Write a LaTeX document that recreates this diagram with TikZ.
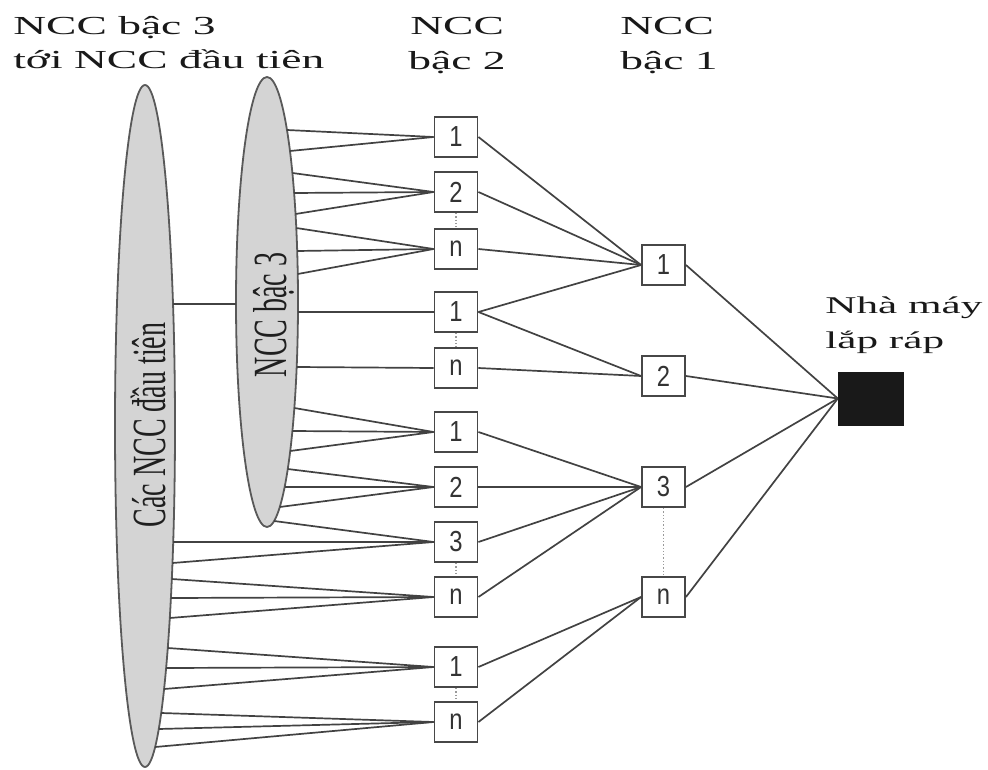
\documentclass[tikz,border=0pt]{standalone}
\usepackage{fontspec}
\setmainfont{Liberation Serif}
\newfontfamily\digitfont{Liberation Sans}
\usetikzlibrary{shapes.geometric}
% narrow digits inside the supplier boxes
\newcommand{\boxnum}[1]{\scalebox{0.82}[1]{#1}}

\begin{document}
\begin{tikzpicture}[x=1pt,y=-1pt,
  lbl/.style={anchor=base west, inner sep=0pt, xscale=1.75, text=black!90,
              font=\fontsize{26}{30}\selectfont},
  plantlbl/.style={lbl, xscale=1.8/1.75, font=\fontsize{24}{28}\selectfont},
  sidelbl/.style={rotate=90, inner sep=0pt, text=black!88,
              font=\fontsize{28}{32}\selectfont},
  sup/.style={draw=black!72, line width=1.9pt, fill=white, minimum width=43pt,
              minimum height=40pt, inner sep=0pt, text=black!80,
              font=\digitfont\fontsize{29}{29}\selectfont},
  plant/.style={draw=black!90, fill=black!90, minimum width=65pt,
              minimum height=53pt, inner sep=0pt},
  link/.style={draw=black!74, line width=1.7pt},
  gap/.style={draw=black!40, line width=1.3pt, dotted},
  tier/.style={ellipse, draw=black!65, fill=black!17, line width=1.8pt, inner sep=0pt}
]
\useasboundingbox (0,0) rectangle (988,770);

% column headings
\node[lbl] (h3a) at (13,35) {NCC bậc 3};
\node[lbl] (h3b) at (13,69) {tới NCC đầu tiên};
\node[lbl] (h2a) at (410,35) {NCC};
\node[lbl] (h2b) at (408,70) {bậc 2};
\node[lbl] (h1a) at (620,35) {NCC};
\node[lbl] (h1b) at (620,70) {bậc 1};
\node[plantlbl] (pa) at (825,313) {Nhà máy};
\node[plantlbl] (pb) at (825,348) {lắp ráp};

% supplier groups
\node[tier, minimum width=60pt, minimum height=682pt] (E1) at (145,426) {};
\node[tier, minimum width=62pt, minimum height=450pt] (E3) at (267,302) {};
\node[sidelbl] (t1) at (148,425) {\scalebox{1}[1.7]{Các NCC đầu tiên}};
\node[sidelbl] (t3) at (274,315) {\scalebox{1}[1.7]{NCC bậc 3}};

% tier-2 suppliers
\node[sup] (c2a) at (456,137) {\boxnum{1}};
\node[sup] (c2b) at (456,192) {\boxnum{2}};
\node[sup] (c2c) at (456,249) {\boxnum{n}};
\node[sup] (c2d) at (456,312) {\boxnum{1}};
\node[sup] (c2e) at (456,368) {\boxnum{n}};
\node[sup] (c2f) at (456,432) {\boxnum{1}};
\node[sup] (c2g) at (456,487) {\boxnum{2}};
\node[sup] (c2h) at (456,542) {\boxnum{3}};
\node[sup] (c2i) at (456,597) {\boxnum{n}};
\node[sup] (c2j) at (456,667) {\boxnum{1}};
\node[sup] (c2k) at (456,722) {\boxnum{n}};

% tier-1 suppliers
\node[sup] (c1a) at (663.5,265) {\boxnum{1}};
\node[sup] (c1b) at (663.5,376) {\boxnum{2}};
\node[sup] (c1c) at (663.5,487) {\boxnum{3}};
\node[sup] (c1d) at (663.5,597) {\boxnum{n}};

% assembly plant
\node[plant] (F) at (870.5,398.5) {};

% link between the two outer groups
\coordinate (e1r) at ({145+30*sqrt(1-((304-426)/341)^2)},304);
\coordinate (e3l) at ({267-31*sqrt(1-((304-302)/225)^2)},304);
\draw[link] (e1r) -- (e3l);

% tier-3 group to tier-2 suppliers
\foreach \yy in {130,151}
  \draw[link] ({267+31*sqrt(1-((\yy-302)/225)^2)},\yy) -- (c2a.west);
\foreach \yy in {173,193,214}
  \draw[link] ({267+31*sqrt(1-((\yy-302)/225)^2)},\yy) -- (c2b.west);
\foreach \yy in {228,251,274}
  \draw[link] ({267+31*sqrt(1-((\yy-302)/225)^2)},\yy) -- (c2c.west);
\foreach \yy in {312}
  \draw[link] ({267+31*sqrt(1-((\yy-302)/225)^2)},\yy) -- (c2d.west);
\foreach \yy in {367}
  \draw[link] ({267+31*sqrt(1-((\yy-302)/225)^2)},\yy) -- (c2e.west);
\foreach \yy in {408,431,451}
  \draw[link] ({267+31*sqrt(1-((\yy-302)/225)^2)},\yy) -- (c2f.west);
\foreach \yy in {469,487,507}
  \draw[link] ({267+31*sqrt(1-((\yy-302)/225)^2)},\yy) -- (c2g.west);
\foreach \yy in {521}
  \draw[link] ({267+31*sqrt(1-((\yy-302)/225)^2)},\yy) -- (c2h.west);

% first-tier group to tier-2 suppliers
\foreach \yy in {542,563}
  \draw[link] ({145+30*sqrt(1-((\yy-426)/341)^2)},\yy) -- (c2h.west);
\foreach \yy in {579,598,618}
  \draw[link] ({145+30*sqrt(1-((\yy-426)/341)^2)},\yy) -- (c2i.west);
\foreach \yy in {648,668,689}
  \draw[link] ({145+30*sqrt(1-((\yy-426)/341)^2)},\yy) -- (c2j.west);
\foreach \yy in {713,729,747}
  \draw[link] ({145+30*sqrt(1-((\yy-426)/341)^2)},\yy) -- (c2k.west);

% tier-2 to tier-1
\foreach \s in {c2a,c2b,c2c,c2d} \draw[link] (\s.east) -- (c1a.west);
\foreach \s in {c2d,c2e} \draw[link] (\s.east) -- (c1b.west);
\foreach \s in {c2f,c2g,c2h,c2i} \draw[link] (\s.east) -- (c1c.west);
\foreach \s in {c2j,c2k} \draw[link] (\s.east) -- (c1d.west);

% tier-1 to plant
\foreach \s in {c1a,c1b,c1c,c1d} \draw[link] (\s.east) -- (F.west);

% elided suppliers
\draw[gap] (c2b.south) -- (c2c.north);
\draw[gap] (c2d.south) -- (c2e.north);
\draw[gap] (c2h.south) -- (c2i.north);
\draw[gap] (c2j.south) -- (c2k.north);
\draw[gap] (c1c.south) -- (c1d.north);
\end{tikzpicture}
\end{document}
